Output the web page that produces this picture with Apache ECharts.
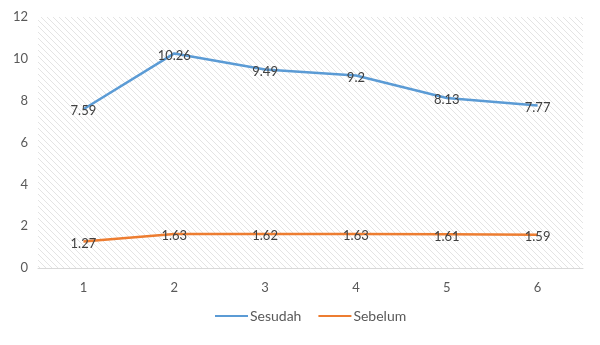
<!DOCTYPE html>
<html>
<head>
<meta charset="utf-8">
<script src="https://cdn.jsdelivr.net/npm/echarts@6/dist/echarts.min.js"></script>
<style>
  html, body { margin: 0; padding: 0; background: #fff; }
  #chart { width: 600px; height: 345px; }
</style>
</head>
<body>
<div id="chart"></div>
<script>
// Measurement points and the two series
const categories = ['1', '2', '3', '4', '5', '6'];
const sesudah = [7.59, 10.26, 9.49, 9.2, 8.13, 7.77];
const sebelum = [1.27, 1.63, 1.62, 1.63, 1.61, 1.59];
const yTicks = { min: 0, max: 12, interval: 2 };

// Diagonal hatch used to fill the plotting area
function hatchPattern() {
  const c = document.createElement('canvas');
  const s = 6;
  c.width = s; c.height = s;
  const ctx = c.getContext('2d');
  ctx.fillStyle = '#ffffff';
  ctx.fillRect(0, 0, s, s);
  ctx.strokeStyle = '#e4e4e4';
  ctx.lineWidth = 1;
  ctx.beginPath();
  ctx.moveTo(-1, -1); ctx.lineTo(s + 1, s + 1);
  ctx.moveTo(-1, s - 1); ctx.lineTo(1, s + 1);
  ctx.moveTo(s - 1, -1); ctx.lineTo(s + 1, 1);
  ctx.stroke();
  return c;
}

const font = 'Lato, "Noto Sans", sans-serif';
const chart = echarts.init(document.getElementById('chart'), null, { renderer: 'canvas' });

const labelStyle = {
  show: true,
  position: 'inside',
  offset: [0, 2],
  color: '#404040',
  fontSize: 13,
  fontFamily: font
};

chart.setOption({
  animation: false,
  grid: {
    left: 38, right: 17, top: 17, bottom: 77,
    show: true,
    borderWidth: 0,
    backgroundColor: { image: hatchPattern(), repeat: 'repeat' }
  },
  legend: {
    bottom: 17,
    left: 210,
    icon: 'rect',
    itemWidth: 33,
    itemHeight: 2,
    itemGap: 17,
    textStyle: { color: '#595959', fontSize: 14, fontFamily: font, padding: [0, 0, 0, -3] },
    data: ['Sesudah', 'Sebelum']
  },
  xAxis: {
    type: 'category',
    data: categories,
    boundaryGap: true,
    axisLine: { show: true, lineStyle: { color: '#d9d9d9' } },
    axisTick: { show: false },
    axisLabel: { color: '#595959', fontSize: 13, fontFamily: font, margin: 13 }
  },
  yAxis: {
    type: 'value',
    min: yTicks.min,
    max: yTicks.max,
    interval: yTicks.interval,
    axisLine: { show: false },
    axisTick: { show: false },
    splitLine: { show: false },
    axisLabel: { color: '#595959', fontSize: 13, fontFamily: font, margin: 10 }
  },
  series: [
    {
      name: 'Sesudah',
      type: 'line',
      data: sesudah,
      showSymbol: true,
      symbol: 'circle',
      symbolSize: 0,
      color: '#5b9bd5',
      lineStyle: { width: 2.5, color: '#5b9bd5' },
      label: labelStyle
    },
    {
      name: 'Sebelum',
      type: 'line',
      data: sebelum,
      showSymbol: true,
      symbol: 'circle',
      symbolSize: 0,
      color: '#ed7d31',
      lineStyle: { width: 2.5, color: '#ed7d31' },
      label: labelStyle
    }
  ]
});
</script>
</body>
</html>
